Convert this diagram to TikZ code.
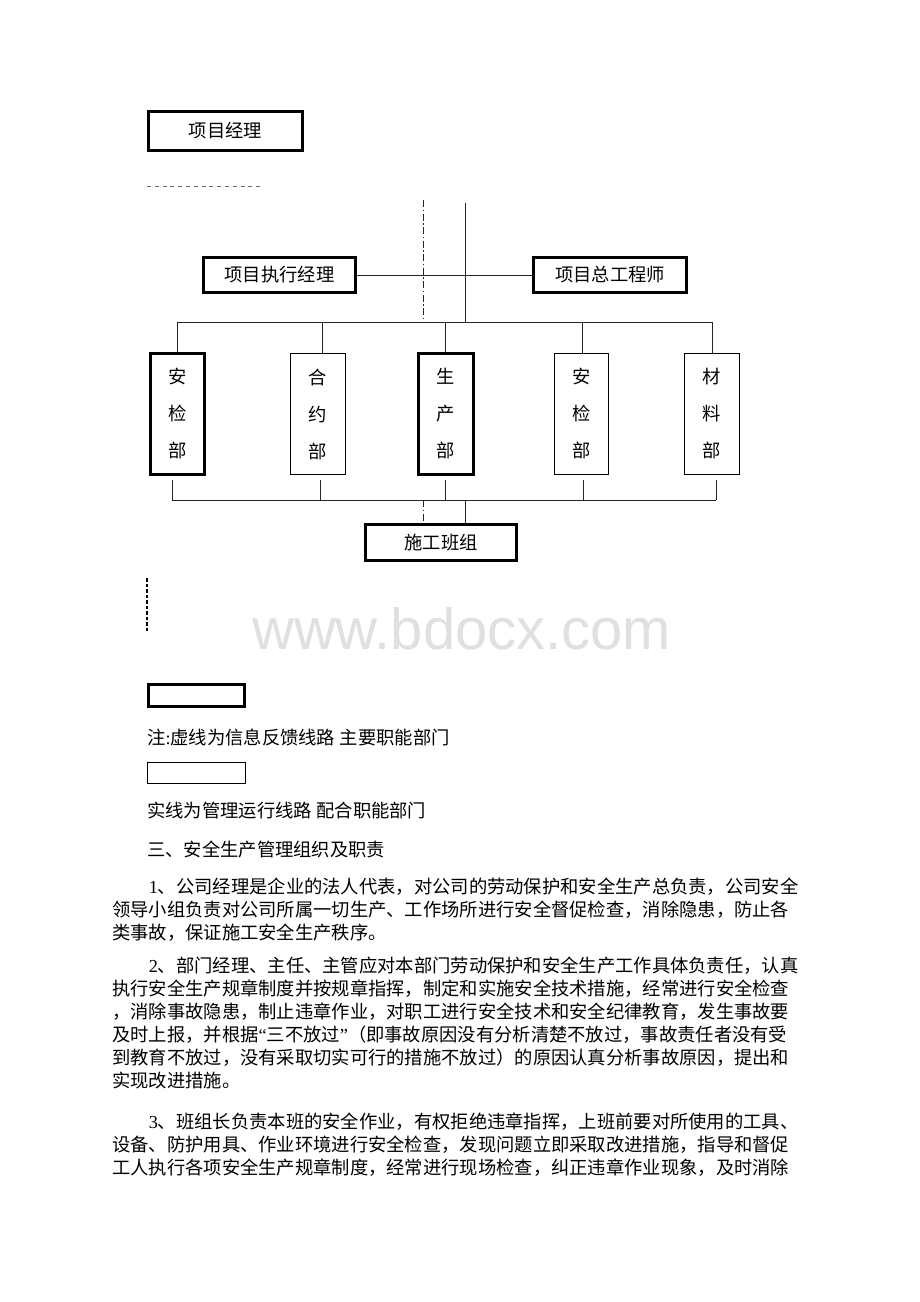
\documentclass[tikz,border=0pt]{standalone}
\usepackage{fontspec}
\setmainfont{Liberation Serif}
\newfontfamily\cjk{Noto Sans CJK SC}
\newfontfamily\wmfont{Liberation Sans}
\XeTeXlinebreaklocale "zh"
\XeTeXlinebreakskip=0pt plus 4pt
\newcommand{\jline}[1]{\makebox[690pt][s]{#1}}
\tikzset{
  lbl/.style={font=\cjk\fontsize{18.3}{22}\selectfont},
  thickbox/.style={draw=black, line width=3pt, inner sep=0pt, lbl},
  thinbox/.style={draw=black, line width=1.1pt, inner sep=0pt, lbl},
  vbox/.style={align=center, font=\cjk\fontsize{18.3}{37}\selectfont, minimum width=55pt, minimum height=121pt},
  conn/.style={draw=black!85, line width=1pt},
  ddline/.style={draw=black!85, line width=0.9pt, dash pattern=on 7pt off 2.5pt on 1.5pt off 2.5pt},
  topdash/.style={draw=black!60, line width=1pt, dash pattern=on 4pt off 3.8pt},
  legdash/.style={draw=black, line width=2pt, dash pattern=on 3.5pt off 2pt},
  bodyline/.style={anchor=west, inner sep=0pt, font=\cjk\fontsize{18.3}{22}\selectfont},
}
\begin{document}
\begin{tikzpicture}[x=1pt,y=-1pt]
\useasboundingbox (0,0) rectangle (920,1302);
\fill[white] (0,0) rectangle (920,1302);

% watermark
\node[anchor=base west, inner sep=0pt, text=black!12, font=\wmfont\fontsize{58}{62}\selectfont] (wm) at (252,649) {www.bdocx.com};

% top box
\node[thickbox, minimum width=154pt, minimum height=39pt] (pm) at (225.5,131) {项目经理};
\coordinate (tdl) at (147,186);
\coordinate (tdr) at (263,186);
\draw[topdash] (tdl) -- (tdr);

% second level
\node[thickbox, minimum width=152pt, minimum height=35pt] (exec) at (279.5,275) {项目执行经理};
\node[thickbox, minimum width=153pt, minimum height=35pt] (chief) at (610,275) {项目总工程师};
\draw[conn] (exec.east) -- (chief.west);

\coordinate (ddtop) at (423,200);
\coordinate (ddmid) at (423,322);
\coordinate (sltop) at (465,203);
\coordinate (slmid) at (465,322);
\draw[ddline] (ddtop) -- (ddmid);
\draw[conn] (sltop) -- (slmid);

% department line
\coordinate (c1) at (177,322);
\coordinate (c2) at (322,322);
\coordinate (c3) at (445,322);
\coordinate (c4) at (582,322);
\coordinate (c5) at (712,322);
\draw[conn] (c1) -- (c5);

% departments
\node[thickbox, vbox, minimum width=54pt] (d1) at (177.5,414) {安\\检\\部};
\node[thinbox, vbox] (d2) at (318,414) {合\\约\\部};
\node[thickbox, vbox] (d3) at (446,414) {生\\产\\部};
\node[thinbox, vbox, minimum width=54pt] (d4) at (581.5,414) {安\\检\\部};
\node[thinbox, vbox] (d5) at (712,414) {材\\料\\部};

\draw[conn] (c1) -- (c1 |- d1.north);
\draw[conn] (c2) -- (c2 |- d2.north);
\draw[conn] (c3) -- (c3 |- d3.north);
\draw[conn] (c4) -- (c4 |- d4.north);
\draw[conn] (c5) -- (c5 |- d5.north);

% bottom collecting line
\coordinate (e1) at (172,480);
\coordinate (e2) at (320,480);
\coordinate (e3) at (445,480);
\coordinate (e4) at (583,480);
\coordinate (e5) at (716,480);
\coordinate (f1) at (172,500);
\coordinate (f2) at (320,500);
\coordinate (f3) at (445,500);
\coordinate (f4) at (583,500);
\coordinate (f5) at (716,500);
\draw[conn] (f1) -- (f5);
\draw[conn] (e1) -- (f1);
\draw[conn] (e2) -- (f2);
\draw[conn] (e3) -- (f3);
\draw[conn] (e4) -- (f4);
\draw[conn] (e5) -- (f5);

\node[thickbox, minimum width=151pt, minimum height=36pt] (team) at (441,542.5) {施工班组};
\coordinate (ddbot) at (423,500);
\coordinate (slbot) at (465,500);
\draw[ddline] (ddbot) -- (ddbot |- team.north);
\draw[conn] (slbot) -- (slbot |- team.north);

% left dashed vertical
\coordinate (ldt) at (147,578);
\coordinate (ldb) at (147,632);
\draw[legdash] (ldt) -- (ldb);

% legend
\node[draw=black, line width=3pt, minimum width=96pt, minimum height=22pt, inner sep=0pt] (leg1) at (196.5,695.5) {};
\node[bodyline] (legt1) at (147,737) {注{\rmfamily :}虚线为信息反馈线路{\rmfamily\ }主要职能部门};
\node[draw=black, line width=1.1pt, minimum width=98pt, minimum height=21pt, inner sep=0pt] (leg2) at (196.5,773) {};
\node[bodyline] (legt2) at (147,811) {实线为管理运行线路{\rmfamily\ }配合职能部门};
\node[bodyline] (sec3) at (147,849) {三、安全生产管理组织及职责};

% paragraph 1
\node[bodyline] (p1a) at (112,887) {\jline{\hspace*{2em}{\rmfamily 1}、公司经理是企业的法人代表，对公司的劳动保护和安全生产总负责，公司安全}};
\node[bodyline] (p1b) at (112,910) {\jline{领导小组负责对公司所属一切生产、工作场所进行安全督促检查，消除隐患，防止各}};
\node[bodyline] (p1c) at (112,933) {类事故，保证施工安全生产秩序。};

% paragraph 2
\node[bodyline] (p2a) at (112,966) {\jline{\hspace*{2em}{\rmfamily 2}、部门经理、主任、主管应对本部门劳动保护和安全生产工作具体负责任，认真}};
\node[bodyline] (p2b) at (112,989) {\jline{执行安全生产规章制度并按规章指挥，制定和实施安全技术措施，经常进行安全检查}};
\node[bodyline] (p2c) at (112,1012) {\jline{，消除事故隐患，制止违章作业，对职工进行安全技术和安全纪律教育，发生事故要}};
\node[bodyline] (p2d) at (112,1035) {\jline{及时上报，并根据{\rmfamily “}三不放过{\rmfamily ”}（即事故原因没有分析清楚不放过，事故责任者没有受}};
\node[bodyline] (p2e) at (112,1058) {\jline{到教育不放过，没有采取切实可行的措施不放过）的原因认真分析事故原因，提出和}};
\node[bodyline] (p2f) at (112,1081) {实现改进措施。};

% paragraph 3
\node[bodyline] (p3a) at (112,1122) {\jline{\hspace*{2em}{\rmfamily 3}、班组长负责本班的安全作业，有权拒绝违章指挥，上班前要对所使用的工具、}};
\node[bodyline] (p3b) at (112,1145) {\jline{设备、防护用具、作业环境进行安全检查，发现问题立即采取改进措施，指导和督促}};
\node[bodyline] (p3c) at (112,1168) {\jline{工人执行各项安全生产规章制度，经常进行现场检查，纠正违章作业现象，及时消除}};
\end{tikzpicture}
\end{document}
